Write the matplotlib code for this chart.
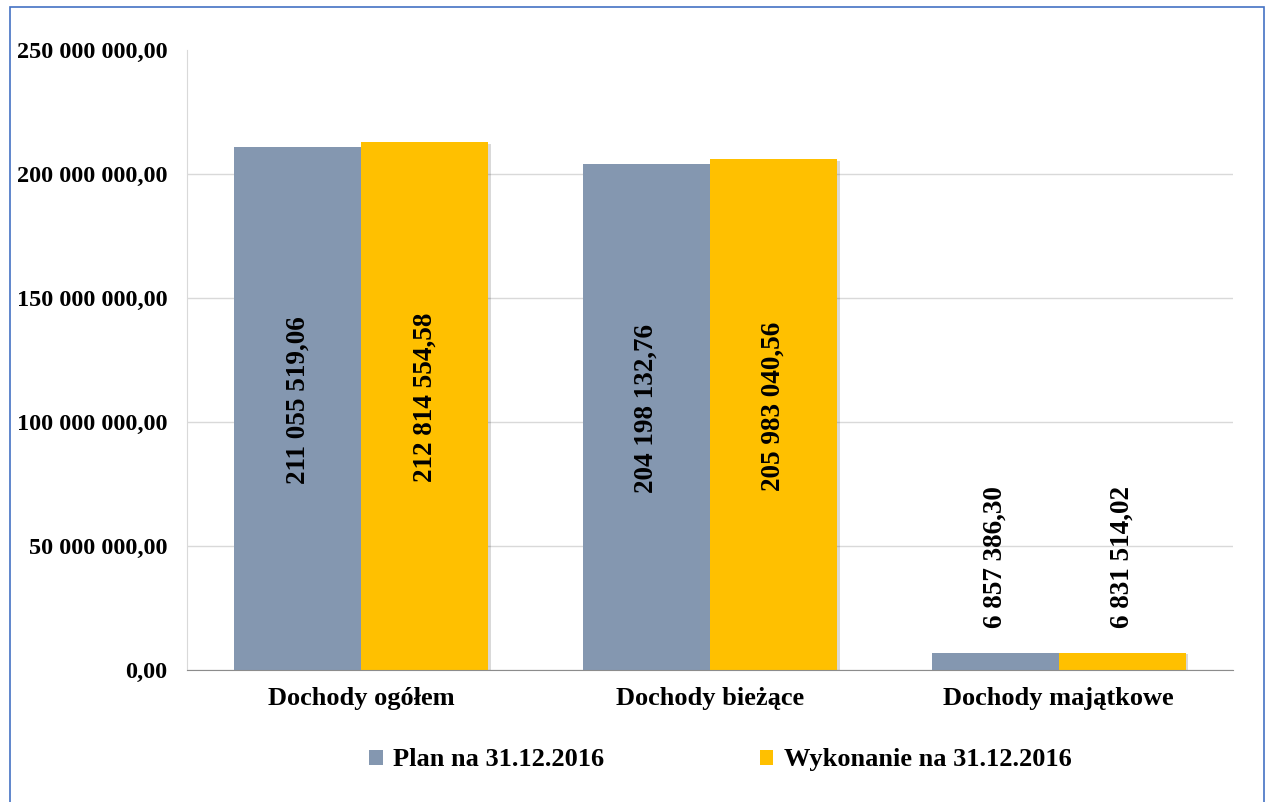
import matplotlib
matplotlib.use("Agg")
import matplotlib.pyplot as plt
import matplotlib.patheffects as pe
from matplotlib.patches import Rectangle, Patch
from matplotlib.ticker import FuncFormatter
import numpy as np

plt.rcParams['font.family'] = ['Liberation Serif', 'DejaVu Serif']
plt.rcParams['font.weight'] = 'bold'

categories = ['Dochody ogółem', 'Dochody bieżące', 'Dochody majątkowe']
plan = [211055519.06, 204198132.76, 6857386.30]
wykonanie = [212814554.58, 205983040.56, 6831514.02]
series_names = ['Plan na 31.12.2016', 'Wykonanie na 31.12.2016']
colors = ['#8497B0', '#FFC000']
yticks = [0, 50000000, 100000000, 150000000, 200000000, 250000000]


def pl_format(v, pos=None):
    # polish style: space as thousands separator, comma as decimal
    return f"{v:,.2f}".replace(",", " ").replace(".", ",")


fig = plt.figure(figsize=(12.72, 8.02), dpi=100)
ax = fig.add_axes([0.147, 0.1646, 0.8223, 0.7731])

x = np.arange(len(categories))
w = 0.364
shadow = [pe.SimplePatchShadow(offset=(2, -1), shadow_rgbFace='#000000', alpha=0.15), pe.Normal()]

bars_plan = ax.bar(x - w / 2, plan, w, color=colors[0], zorder=3, path_effects=shadow)
bars_wyk = ax.bar(x + w / 2, wykonanie, w, color=colors[1], zorder=3, path_effects=shadow)

ax.set_ylim(0, 250000000)
ax.set_xlim(-0.5, len(categories) - 0.5)
ax.set_yticks(yticks)
ax.yaxis.set_major_formatter(FuncFormatter(pl_format))
ax.set_xticks(x)
ax.set_xticklabels(categories, fontsize=19, fontweight='bold')
ax.tick_params(axis='y', length=0, pad=14, labelsize=17.5)
ax.tick_params(axis='x', length=0, pad=12)
ax.grid(axis='y', color='#D9D9D9', linewidth=1, zorder=0)
ax.get_ygridlines()[-1].set_visible(False)

for s in ['top', 'right']:
    ax.spines[s].set_visible(False)
ax.spines['left'].set_color('#D9D9D9')
ax.spines['bottom'].set_color('#8C8C8C')
ax.spines['bottom'].set_zorder(4)

# data labels: rotated, centred inside tall bars, above short ones
for bars in (bars_plan, bars_wyk):
    for b in bars:
        h = b.get_height()
        cx = b.get_x() + b.get_width() / 2
        if h > 50000000:
            ax.annotate(pl_format(h), (cx, h / 2), xytext=(0, 6), textcoords='offset points',
                        rotation=90, ha='center', va='center',
                        fontsize=19.5, fontweight='bold', zorder=5)
        else:
            ax.annotate(pl_format(h), (cx, h), xytext=(0, 18), textcoords='offset points',
                        rotation=90, ha='center', va='bottom', fontsize=19.5,
                        fontweight='bold', zorder=5)

handles = [Patch(facecolor=c, edgecolor='none') for c in colors]
ax.legend(handles, series_names, loc='center', bbox_to_anchor=(0.51, -0.145), ncol=2,
          frameon=False, fontsize=19, handlelength=0.5, handleheight=0.5,
          handletextpad=0.4, columnspacing=5.9)

# outer chart border
fig.patches.append(Rectangle((10 / 1272, -0.01), 1254 / 1272, 1 - 7 / 802 + 0.01,
                             transform=fig.transFigure, fill=False,
                             edgecolor='#4472C4', linewidth=1.2))

fig.savefig('out.png', dpi=100)
